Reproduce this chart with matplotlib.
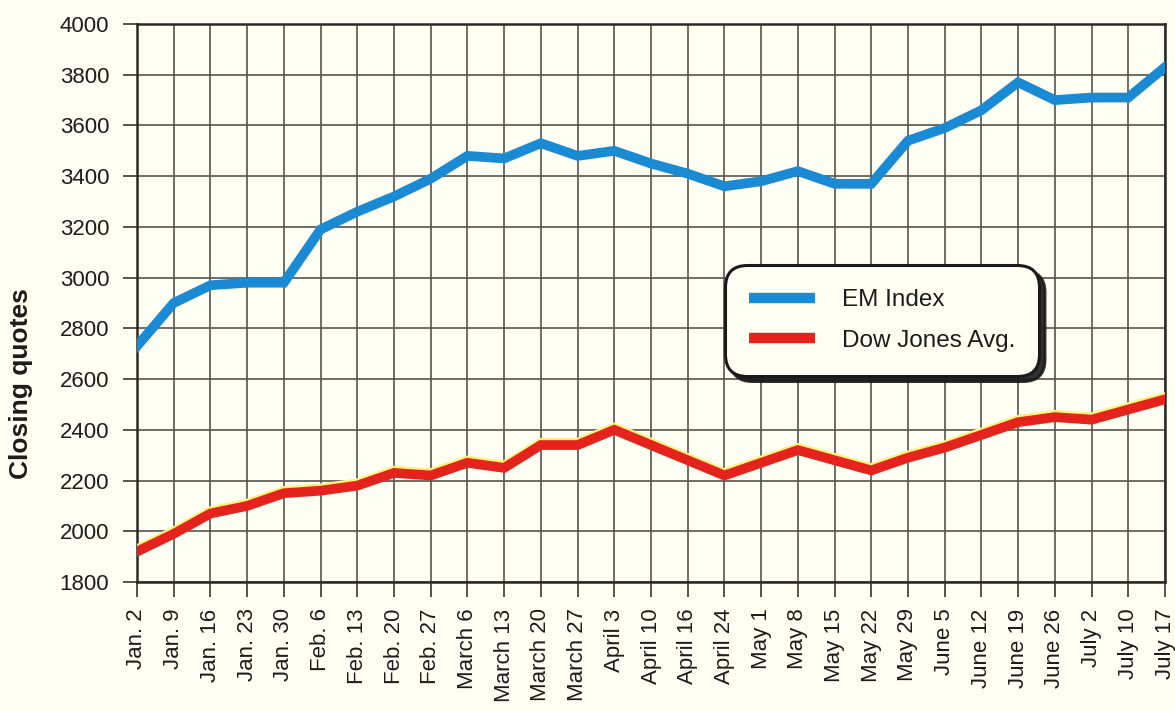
import matplotlib
matplotlib.use("Agg")
import matplotlib.pyplot as plt
import matplotlib.transforms as mtransforms

plt.rcParams["font.family"] = ["Liberation Sans", "DejaVu Sans"]

# Weekly closing quotes
dates = ["Jan. 2", "Jan. 9", "Jan. 16", "Jan. 23", "Jan. 30", "Feb. 6", "Feb. 13",
         "Feb. 20", "Feb. 27", "March 6", "March 13", "March 20", "March 27",
         "April 3", "April 10", "April 16", "April 24", "May 1", "May 8", "May 15",
         "May 22", "May 29", "June 5", "June 12", "June 19", "June 26", "July 2",
         "July 10", "July 17"]

em_index = [2730, 2900, 2970, 2980, 2980, 3190, 3260, 3320, 3390, 3480, 3470,
            3530, 3480, 3500, 3450, 3410, 3360, 3380, 3420, 3370, 3370, 3540,
            3590, 3660, 3770, 3700, 3710, 3710, 3830]

dow_jones = [1920, 1990, 2070, 2100, 2150, 2160, 2180, 2230, 2220, 2270, 2250,
             2340, 2340, 2400, 2340, 2280, 2220, 2270, 2320, 2280, 2240, 2290,
             2330, 2380, 2430, 2450, 2440, 2480, 2520]

y_ticks = list(range(1800, 4001, 200))

paper = "#fffff3"
grid_col = "#55554e"
ink = "#1c1c1a"

fig = plt.figure(figsize=(11.75, 7.11), dpi=100, facecolor=paper)
ax = fig.add_axes([137 / 1175, 1 - 582 / 711, (1165 - 137) / 1175, (582 - 24) / 711])
ax.set_facecolor(paper)

x = list(range(len(dates)))

# Grid lines at every week and every 200 points
ax.set_xlim(0, len(dates) - 1)
ax.set_ylim(1800, 4000)
ax.set_xticks(x)
ax.set_xticklabels(dates, rotation=90, fontsize=16, color=ink)
ax.set_yticks(y_ticks)
ax.set_yticklabels([str(v) for v in y_ticks], fontsize=16, color=ink)
ax.grid(True, color=grid_col, linewidth=1.2)
ax.set_axisbelow(True)
for s in ax.spines.values():
    s.set_color("#2a2a26")
    s.set_linewidth(1.8)
ax.tick_params(axis="x", direction="out", length=11, width=1.4, color=grid_col, pad=8)
ax.tick_params(axis="y", direction="out", length=10, width=1.4, color=grid_col, pad=10)

fig.text(21 / 1175, 1 - 384 / 711, "Closing quotes", rotation=90, fontsize=19,
         fontweight="bold", color=ink, ha="center", va="center")

# Series
ax.plot(x, em_index, color="#1a8ad4", linewidth=7, solid_joinstyle="miter",
        label="EM Index", zorder=4)

glow = mtransforms.offset_copy(ax.transData, fig=fig, x=0, y=2.2, units="points")
ax.plot(x, dow_jones, color="#fff27a", linewidth=6, transform=glow, zorder=3)
ax.plot(x, dow_jones, color="#e4241c", linewidth=7, solid_joinstyle="miter",
        label="Dow Jones Avg.", zorder=4)

leg = ax.legend(loc="upper left", bbox_to_anchor=(0.572, 0.568), fontsize=17.5,
                handlelength=2.7, handletextpad=1.1, labelspacing=0.75,
                borderpad=1.0, borderaxespad=0, fancybox=True, framealpha=1,
                shadow={"color": "#1a1a1a", "alpha": 0.9, "ox": 4, "oy": -4})
frame = leg.get_frame()
frame.set_facecolor(paper)
frame.set_edgecolor("#1a1a1a")
frame.set_linewidth(2.2)
frame.set_boxstyle("round", pad=0, rounding_size=0.9)
for line in leg.get_lines():
    line.set_linewidth(7.5)
    line.set_solid_capstyle("butt")
for t in leg.get_texts():
    t.set_color(ink)

fig.savefig("out.png", dpi=100, facecolor=paper)
